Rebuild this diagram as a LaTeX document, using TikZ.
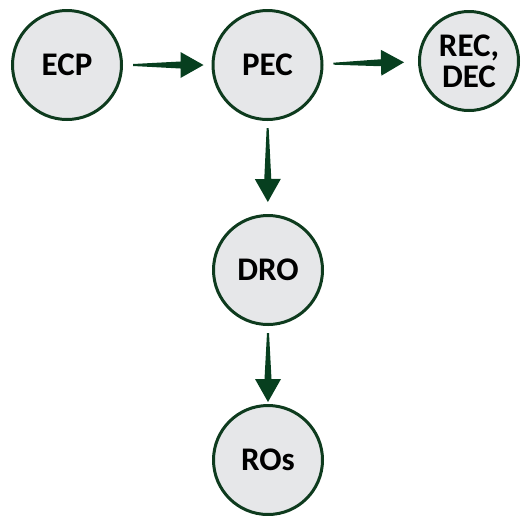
\documentclass[tikz,border=0pt]{standalone}
\usepackage{fontspec}
\setmainfont{Carlito}
\usetikzlibrary{calc}
\definecolor{edgegreen}{HTML}{0E3B1E}
\definecolor{arrowgreen}{HTML}{073F1F}
\definecolor{nodefill}{HTML}{E6E7E9}
\tikzset{
  bubble/.style={circle, draw=edgegreen, line width=3pt, fill=nodefill,
    minimum size=109pt, inner sep=0pt, align=center,
    font=\fontsize{33}{31}\selectfont\bfseries, text=black},
}
% tapered arrow between two named nodes: #1 from, #2 to, #3 start gap, #4 end gap
\newcommand\taperarrow[4]{%
  \path (#1) -- (#2) coordinate[pos=0] (ta) coordinate[pos=1] (tb);
  \coordinate (ts) at ($(ta)!#3!(tb)$);
  \coordinate (tt) at ($(tb)!#4!(ta)$);
  \coordinate (th) at ($(tt)!23pt!(ts)$);
  \fill[arrowgreen] ($(ts)!1pt!90:(tt)$) -- ($(th)!3.5pt!-90:(ts)$) -- ($(th)!13pt!-90:(ts)$)
    -- (tt) -- ($(th)!13pt!90:(ts)$) -- ($(th)!3.5pt!90:(ts)$) -- ($(ts)!1pt!-90:(tt)$) -- cycle;
}
\begin{document}
\begin{tikzpicture}[x=1pt, y=-1pt]
\useasboundingbox (0,0) rectangle (521,515);
\node[bubble] (ecp) at (67,65) {ECP};
\node[bubble] (pec) at (267.5,65) {PEC};
\node[bubble, minimum size=99pt] (rec) at (469,61) {REC,\\DEC};
\node[bubble] (dro) at (268,270) {DRO};
\node[bubble] (ros) at (268,460) {ROs};
\taperarrow{ecp}{pec}{10pt}{8pt}
\taperarrow{pec}{rec}{10pt}{14pt}
\taperarrow{pec}{dro}{7pt}{12pt}
\taperarrow{dro}{ros}{7pt}{2pt}
\end{tikzpicture}
\end{document}
